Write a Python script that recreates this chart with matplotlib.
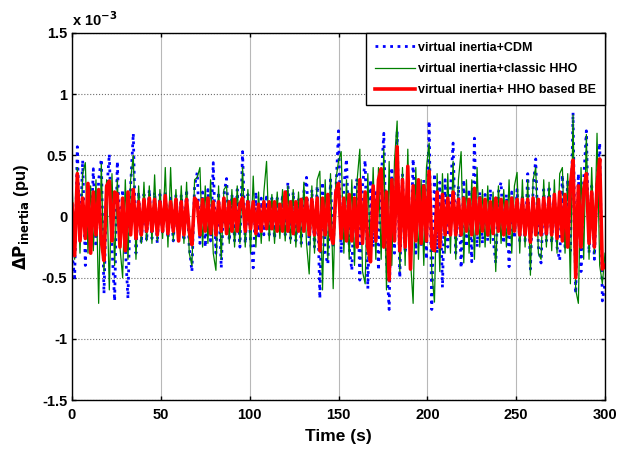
import numpy as np
import matplotlib
matplotlib.use('Agg')
import matplotlib.pyplot as plt

plt.rcParams['font.family'] = ['Liberation Sans', 'DejaVu Sans']
plt.rcParams['font.weight'] = 'bold'

# time axis (s), one sample every 1.5 s; values below are in units of 1e-3 pu
t_start, t_end, t_step = 0, 300, 1.5

# virtual inertia + CDM
p_cdm = [
    -0.30, -0.50, 0.57, -0.20, 0.46, -0.40, 0.25, -0.22, 0.39, -0.25,
    0.30, 0.47, -0.63, 0.20, 0.51, -0.25, -0.69, 0.45, -0.20, 0.22,
    -0.25, -0.67, 0.25, 0.68, -0.30, 0.20, -0.22, 0.18, -0.20, 0.22,
    -0.18, 0.20, -0.22, 0.18, -0.15, 0.20, -0.18, 0.15, -0.20, 0.18,
    -0.15, 0.18, -0.20, 0.22, -0.25, -0.45, 0.25, 0.36, -0.22, 0.20,
    -0.25, 0.22, -0.20, 0.44, -0.30, 0.20, -0.42, 0.18, 0.31, -0.20,
    0.18, -0.20, 0.22, -0.25, 0.53, -0.22, 0.18, -0.20, -0.42, 0.20,
    -0.18, 0.15, -0.15, 0.18, -0.15, 0.15, -0.18, 0.15, -0.12, 0.18,
    -0.15, 0.28, -0.18, 0.20, -0.20, 0.15, -0.22, 0.20, 0.32, -0.25,
    0.22, -0.25, 0.25, -0.67, 0.28, -0.30, -0.39, 0.30, -0.25, 0.20,
    0.70, -0.30, 0.25, 0.47, -0.25, -0.44, 0.22, 0.31, -0.52, 0.25,
    0.46, -0.59, 0.30, -0.25, 0.22, -0.44, 0.30, 0.68, -0.35, -0.76,
    0.40, -0.30, 0.70, -0.50, 0.35, -0.30, 0.28, -0.35, 0.47, -0.30,
    0.25, -0.25, 0.30, -0.35, 0.78, -0.76, 0.35, -0.30, 0.28, -0.58,
    0.30, -0.25, 0.22, 0.60, -0.30, 0.25, -0.42, 0.30, -0.25, 0.22,
    -0.37, 0.64, -0.25, 0.20, -0.22, 0.18, -0.20, 0.22, -0.18, -0.38,
    0.20, 0.28, -0.22, 0.18, -0.41, 0.20, -0.18, 0.22, -0.20, 0.18,
    -0.20, 0.35, -0.43, 0.22, 0.47, -0.25, -0.38, 0.22, -0.20, 0.25,
    -0.22, 0.20, -0.25, -0.36, 0.34, -0.25, 0.30, -0.28, 0.85, -0.63,
    0.35, -0.45, 0.30, 0.70, -0.30, 0.25, -0.35, 0.28, 0.60, -0.69,
    -0.55,
]

# virtual inertia + classic HHO
p_hho = [
    0.30, -0.35, 0.40, -0.30, 0.35, 0.44, -0.30, 0.25, -0.28, 0.30,
    -0.71, 0.43, -0.45, 0.30, -0.60, 0.35, -0.40, 0.30, -0.25, -0.50,
    0.30, -0.35, 0.30, 0.50, -0.35, 0.25, -0.22, 0.28, -0.20, 0.25,
    -0.22, 0.34, -0.20, 0.22, -0.18, 0.40, -0.25, 0.40, -0.20, 0.22,
    -0.20, 0.25, -0.22, 0.28, -0.30, -0.40, 0.30, 0.32, 0.40, -0.25,
    0.25, -0.22, 0.30, -0.30, -0.44, 0.25, -0.35, 0.22, 0.25, -0.22,
    0.22, -0.25, 0.25, -0.22, 0.40, -0.25, 0.22, -0.30, 0.33, -0.25,
    0.20, -0.22, 0.20, 0.45, -0.20, 0.18, -0.22, 0.20, -0.18, 0.22,
    -0.20, 0.25, -0.22, 0.22, -0.25, 0.20, -0.25, 0.28, -0.22, -0.47,
    0.25, -0.30, 0.30, 0.37, -0.60, 0.30, -0.35, 0.35, -0.59, 0.30,
    0.45, 0.53, -0.30, 0.30, -0.35, 0.30, -0.40, 0.30, 0.55, -0.45,
    -0.55, 0.35, -0.35, 0.40, -0.35, 0.40, -0.35, 0.55, -0.60, 0.45,
    -0.40, 0.45, 0.78, -0.45, 0.40, -0.40, 0.55, -0.35, -0.71, 0.40,
    -0.35, 0.30, -0.40, 0.40, 0.60, -0.45, -0.70, 0.35, -0.45, 0.35,
    -0.30, 0.35, -0.30, 0.45, -0.35, 0.30, 0.53, -0.38, 0.30, -0.30,
    0.30, -0.35, 0.40, -0.25, 0.22, -0.25, 0.25, -0.22, 0.20, -0.45,
    0.25, -0.22, 0.22, -0.25, 0.30, -0.30, 0.25, 0.36, -0.30, 0.30,
    -0.25, 0.30, -0.48, 0.30, 0.40, -0.30, -0.35, 0.30, -0.25, 0.28,
    -0.28, 0.30, -0.30, 0.35, 0.40, -0.30, 0.35, -0.55, 0.83, -0.60,
    -0.71, 0.40, -0.35, 0.67, -0.35, 0.40, -0.30, 0.68, -0.40, -0.55,
    -0.30,
]

# virtual inertia + HHO based BE
p_be = [
    0.10, -0.32, 0.35, -0.20, 0.15, -0.18, 0.27, -0.30, 0.20, -0.15,
    0.22, -0.20, -0.36, 0.25, 0.29, -0.20, 0.20, 0.18, -0.25, 0.15,
    -0.28, 0.20, -0.15, 0.22, -0.18, 0.12, -0.15, 0.14, -0.12, 0.15,
    -0.12, 0.14, -0.15, 0.12, -0.12, 0.17, -0.14, 0.12, -0.12, 0.14,
    -0.20, 0.12, -0.15, 0.14, -0.12, -0.23, 0.15, 0.12, -0.15, 0.14,
    -0.12, 0.15, -0.14, 0.12, -0.15, 0.12, -0.12, 0.15, -0.14, 0.12,
    -0.12, 0.14, -0.12, 0.10, 0.15, -0.12, 0.12, -0.10, 0.12, -0.14,
    0.10, -0.12, 0.12, -0.10, 0.12, -0.10, 0.12, -0.12, 0.10, -0.12,
    0.20, -0.12, 0.12, -0.14, 0.12, -0.12, 0.14, -0.12, 0.15, -0.15,
    0.14, -0.15, 0.15, -0.28, 0.15, -0.15, 0.18, -0.15, -0.22, 0.20,
    0.27, -0.18, 0.15, -0.20, 0.18, -0.20, 0.15, -0.25, 0.30, -0.22,
    0.20, -0.25, -0.37, 0.25, -0.20, 0.30, 0.39, -0.25, 0.20, -0.52,
    0.30, -0.20, 0.57, -0.28, 0.30, -0.25, 0.41, -0.43, 0.25, -0.20,
    0.30, -0.22, 0.25, -0.20, 0.37, -0.25, -0.28, 0.20, -0.25, 0.18,
    -0.15, 0.15, -0.15, 0.20, -0.15, 0.14, -0.15, 0.15, -0.12, 0.14,
    -0.15, 0.23, -0.14, 0.15, -0.12, 0.14, -0.15, 0.12, -0.14, 0.15,
    -0.12, 0.14, -0.15, 0.12, -0.14, 0.15, -0.12, 0.14, -0.15, 0.14,
    -0.15, 0.14, -0.21, 0.15, -0.15, 0.14, -0.15, 0.15, -0.14, 0.15,
    -0.15, 0.18, -0.18, 0.20, -0.20, 0.18, -0.25, 0.25, 0.46, -0.50,
    0.25, -0.25, 0.22, 0.35, -0.22, 0.20, -0.25, 0.25, 0.47, -0.43,
    -0.40,
]

labels = ["virtual inertia+CDM", "virtual inertia+classic HHO",
          "virtual inertia+ HHO based BE"]
xticks = [0, 50, 100, 150, 200, 250, 300]
yticks = [-1.5, -1, -0.5, 0, 0.5, 1, 1.5]
yticklabels = ['-1.5', '-1', '-0.5', '0', '0.5', '1', '1.5']

t = np.arange(t_start, t_end + t_step / 2, t_step)

fig = plt.figure(figsize=(6.18, 4.51), dpi=100)
ax = fig.add_axes([0.1165, 0.113, 0.8625, 0.814])

ax.plot(t, p_cdm, color='blue', linestyle=':', linewidth=2.0, label=labels[0])
ax.plot(t, p_hho, color='green', linestyle='-', linewidth=0.9, label=labels[1])
ax.plot(t, p_be, color='red', linestyle='-', linewidth=2.6, label=labels[2])

ax.set_xlim(0, 300)
ax.set_ylim(-1.5, 1.5)
ax.set_xticks(xticks)
ax.set_yticks(yticks)
ax.set_yticklabels(yticklabels)
ax.tick_params(direction='in', length=3, width=1, top=True, right=True,
               labelsize=10.5)
ax.tick_params(axis='x', pad=6)
for lab in ax.get_xticklabels() + ax.get_yticklabels():
    lab.set_fontweight('bold')

ax.xaxis.grid(True, color='#b8b8b8', linestyle='-', linewidth=0.8)
ax.yaxis.grid(True, color='#707070', linestyle=':', linewidth=0.8)
ax.set_axisbelow(True)
for sp in ax.spines.values():
    sp.set_linewidth(1.0)

ax.set_xlabel("Time (s)", fontsize=12.5, fontweight='bold', labelpad=5)
ax.set_ylabel(r"$\mathbf{\Delta P_{inertia}}$ (pu)", fontsize=12, fontweight='bold',
              labelpad=8)
ax.text(0.0, 1.012, r"x 10$^{\mathbf{-3}}$", transform=ax.transAxes,
        fontsize=10.5, fontweight='bold', ha='left', va='bottom')

leg = ax.legend(loc='upper right', fontsize=9, frameon=True, fancybox=False,
                borderaxespad=0, handlelength=3.2, handletextpad=0.3,
                labelspacing=0.75, borderpad=0.7)
leg.get_frame().set_edgecolor('black')
leg.get_frame().set_linewidth(1.0)
leg.get_frame().set_alpha(1)
for txt in leg.get_texts():
    txt.set_fontweight('bold')

fig.savefig('out.png', dpi=100)
